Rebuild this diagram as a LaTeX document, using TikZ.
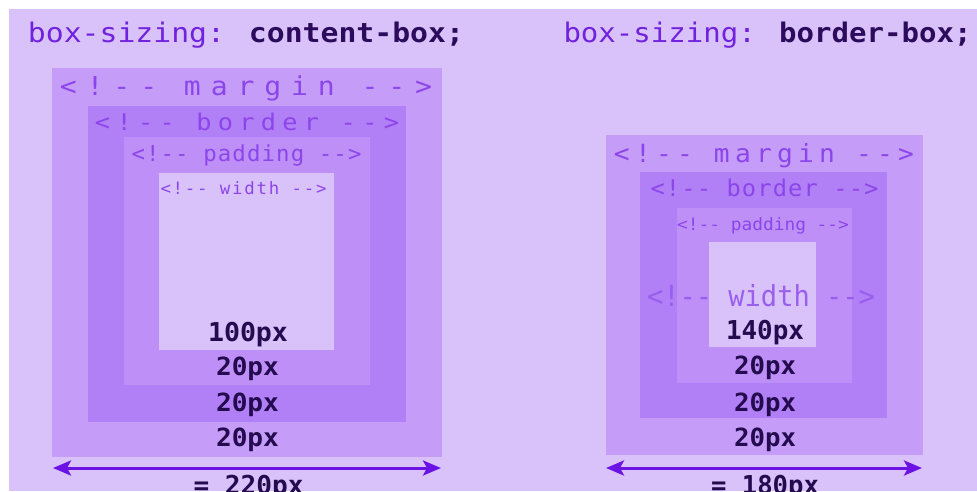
\documentclass[tikz,border=0pt]{standalone}
\usepackage{fontspec}
\usepackage{graphicx}
\usetikzlibrary{arrows.meta}
\newfontfamily\cmono{DejaVu Sans Mono}
\definecolor{bgc}{HTML}{D9C2FA}
\definecolor{marc}{HTML}{C59CF8}
\definecolor{borc}{HTML}{B17FF6}
\definecolor{padc}{HTML}{BE90F7}
\definecolor{conc}{HTML}{D9C2FA}
\definecolor{labc}{HTML}{8C45EA}
\definecolor{labw}{HTML}{9A5EEE}
\definecolor{titA}{HTML}{7022DC}
\definecolor{titB}{HTML}{2C0A5C}
\definecolor{numc}{HTML}{240A4E}
\definecolor{arrc}{HTML}{6B12E4}
\newcommand\fitt[3]{\resizebox{#1pt}{\height}{\cmono\fontsize{#2pt}{#2pt}\selectfont #3}}
\tikzset{
  layer/.style={fill=#1, draw=none},
  txt/.style={anchor=base, inner sep=0pt, outer sep=0pt},
  dimarrow/.style={draw=arrc, line width=3pt, {Stealth[length=18pt,width=15pt,inset=4pt]}-{Stealth[length=18pt,width=15pt,inset=4pt]}}
}
\begin{document}
\begin{tikzpicture}[x=1pt,y=-1pt]
\useasboundingbox (0,0) rectangle (977,491);
\clip (0,0) rectangle (977,491);
\fill[white] (0,0) rectangle (977,491);
\fill[bgc] (9,9) rectangle (977,491);

% ---------- left: content-box ----------
\node[txt] (tL) at (246,42) {\fitt{436}{27}{{\color{titA}box-sizing: }{\bfseries\color{titB}content-box;}}};

\path[layer=marc] (52,68) rectangle (442,457) node[pos=0.5,inner sep=0] (mL) {};
\path[layer=borc] (88,106) rectangle (406,422) node[pos=0.5,inner sep=0] (bL) {};
\path[layer=padc] (124,137) rectangle (370,385) node[pos=0.5,inner sep=0] (pL) {};
\path[layer=conc] (159,173) rectangle (334,350) node[pos=0.5,inner sep=0] (cL) {};

\node[txt,text=labc] (mlabL) at (246,95) {\fitt{372}{26}{\addfontfeature{LetterSpace=35}<!-{}- margin -{}->}};
\node[txt,text=labc] (blabL) at (247,130) {\fitt{304}{23}{\addfontfeature{LetterSpace=25}<!-{}- border -{}->}};
\node[txt,text=labc] (plabL) at (246.5,161) {\fitt{230}{22}{\addfontfeature{LetterSpace=5}<!-{}- padding -{}->}};
\node[txt,text=labc] (wlabL) at (243.5,194) {\fitt{166}{17}{\addfontfeature{LetterSpace=10}<!-{}- width -{}->}};

\node[txt,text=numc] (n100) at (248,341) {\fitt{80}{26}{\bfseries 100px}};
\node[txt,text=numc] (npL) at (247.5,375) {\fitt{63}{25}{\bfseries 20px}};
\node[txt,text=numc] (nbL) at (247.5,411) {\fitt{63}{25}{\bfseries 20px}};
\node[txt,text=numc] (nmL) at (247.5,446) {\fitt{63}{25}{\bfseries 20px}};

\coordinate (aL1) at (53,468);
\coordinate (aL2) at (441,468);
\draw[dimarrow] (aL1) -- (aL2);
\node[txt,text=numc] (totL) at (248.5,494) {\fitt{110}{26}{\bfseries = 220px}};

% ---------- right: border-box ----------
\node[txt] (tR) at (767.5,42) {\fitt{408}{27}{{\color{titA}box-sizing: }{\bfseries\color{titB}border-box;}}};

\path[layer=marc] (606,135) rectangle (923,455) node[pos=0.5,inner sep=0] (mR) {};
\path[layer=borc] (640,172) rectangle (887,418) node[pos=0.5,inner sep=0] (bR) {};
\path[layer=padc] (677,208) rectangle (852,383) node[pos=0.5,inner sep=0] (pR) {};
\path[layer=conc] (709,242) rectangle (816,347) node[pos=0.5,inner sep=0] (cR) {};

\node[txt,text=labc] (mlabR) at (764,162) {\fitt{300}{25}{\addfontfeature{LetterSpace=20}<!-{}- margin -{}->}};
\node[txt,text=labc] (blabR) at (764.5,196) {\fitt{228}{23}{\addfontfeature{LetterSpace=5}<!-{}- border -{}->}};
\node[txt,text=labc] (plabR) at (763,230) {\fitt{172}{17}{<!-{}- padding -{}->}};
\node[txt,text=labw] (wlabR) at (761,306) {\fitt{228}{29}{<!-{}- width -{}->}};

\node[txt,text=numc] (n140) at (765,339) {\fitt{78}{26}{\bfseries 140px}};
\node[txt,text=numc] (npR) at (765,374) {\fitt{62}{25}{\bfseries 20px}};
\node[txt,text=numc] (nbR) at (765,411) {\fitt{62}{25}{\bfseries 20px}};
\node[txt,text=numc] (nmR) at (765,446) {\fitt{62}{25}{\bfseries 20px}};

\coordinate (aR1) at (606,468);
\coordinate (aR2) at (922,468);
\draw[dimarrow] (aR1) -- (aR2);
\node[txt,text=numc] (totR) at (765,494) {\fitt{108}{26}{\bfseries = 180px}};
\end{tikzpicture}
\end{document}
